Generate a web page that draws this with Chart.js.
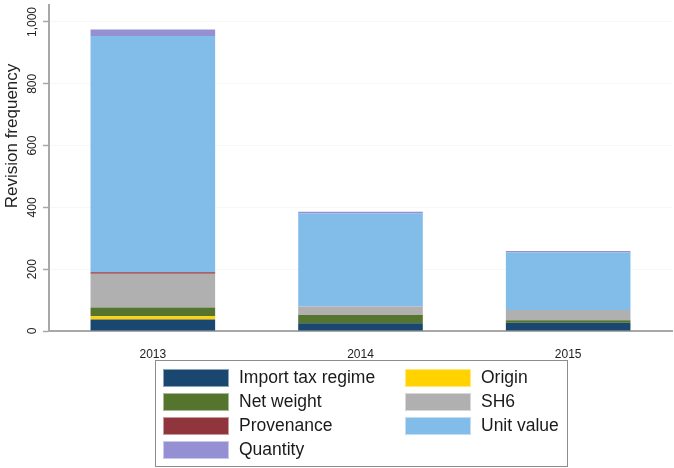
<!DOCTYPE html>
<html>
<head>
<meta charset="utf-8">
<script src="https://cdn.jsdelivr.net/npm/chart.js@4"></script>
<style>
  html, body { margin: 0; padding: 0; background: #fff; }
  #wrap { position: relative; width: 674px; height: 468px; }
</style>
</head>
<body>
<div id="wrap"><canvas id="myChart"></canvas></div>
<script>
// data
const years = ['2013', '2014', '2015'];
const importTax = [37, 25, 27];
const origin = [11, 0, 0];
const netWeight = [28, 27, 8];
const sh6 = [109, 27, 33];
const provenance = [5, 0, 0];
const unitValue = [765, 301, 186];
const quantity = [21, 6, 5];
const yTicks = [0, 200, 400, 600, 800, 1000];

const FONT = '"Liberation Sans", Arial, sans-serif';
const AXIS = '#a8a8a8';

// y tick labels are rotated, Stata style
const rotatedTicks = {
    id: 'rotatedTicks',
    afterDraw(chart) {
        const ctx = chart.ctx;
        const y = chart.scales.y;
        ctx.save();
        ctx.fillStyle = '#222';
        ctx.font = '12px ' + FONT;
        ctx.textAlign = 'center';
        ctx.textBaseline = 'middle';
        y.ticks.forEach(t => {
            ctx.save();
            ctx.translate(33, y.getPixelForValue(t.value));
            ctx.rotate(-Math.PI / 2);
            ctx.fillText(t.value.toLocaleString('en-US'), 0, 0);
            ctx.restore();
        });
        // axis title
        ctx.font = '17px ' + FONT;
        ctx.translate(12, 136);
        ctx.rotate(-Math.PI / 2);
        ctx.fillText('Revision frequency', 0, 0);
        ctx.restore();
    }
};

// boxed legend, two columns, row-major
const boxLegend = {
    id: 'boxLegend',
    afterDraw(chart) {
        const ctx = chart.ctx;
        ctx.save();
        ctx.strokeStyle = '#8c8c8c';
        ctx.lineWidth = 1;
        ctx.strokeRect(155.5, 360.5, 412, 106);
        ctx.font = '17.5px ' + FONT;
        ctx.textBaseline = 'middle';
        chart.data.datasets.forEach((ds, i) => {
            const col = i % 2;
            const row = Math.floor(i / 2);
            const x = col === 0 ? 163 : 405;
            const top = 369 + row * 24;
            ctx.fillStyle = ds.backgroundColor;
            ctx.fillRect(x, top, 66, 18);
            ctx.strokeStyle = 'rgba(255,255,255,0.5)';
            ctx.strokeRect(x + 0.5, top + 0.5, 65, 17);
            ctx.fillStyle = '#1a1a1a';
            ctx.fillText(ds.label, x + 76, top + 9.5);
        });
        ctx.restore();
    }
};

const ctx1 = document.getElementById('myChart').getContext('2d');

const myChart = new Chart(ctx1, {
    type: 'bar',
    data: {
        labels: years,
        datasets: [
            { label: 'Import tax regime', data: importTax, backgroundColor: '#1a476f' },
            { label: 'Origin', data: origin, backgroundColor: '#ffd200' },
            { label: 'Net weight', data: netWeight, backgroundColor: '#55752f' },
            { label: 'SH6', data: sh6, backgroundColor: '#b0b0b0' },
            { label: 'Provenance', data: provenance, backgroundColor: '#90353b' },
            { label: 'Unit value', data: unitValue, backgroundColor: '#82bce8' },
            { label: 'Quantity', data: quantity, backgroundColor: '#958fd4' }
        ]
    },
    options: {
        responsive: true,
        maintainAspectRatio: false,
        animation: false,
        layout: { padding: { top: 5, right: 2, left: 0, bottom: 0 } },
        datasets: { bar: { categoryPercentage: 1, barPercentage: 0.6, borderWidth: 0 } },
        plugins: { legend: { display: false }, tooltip: { enabled: false } },
        scales: {
            x: {
                stacked: true,
                grid: { display: false },
                border: { display: true, color: AXIS, width: 2 },
                ticks: { color: '#222', padding: 8, font: { family: FONT, size: 12 } },
                afterFit(scale) { scale.height = 137; }
            },
            y: {
                stacked: true,
                min: 0,
                max: 1055,
                afterBuildTicks(scale) { scale.ticks = yTicks.map(v => ({ value: v })); },
                grid: { color: '#f7f7f7', tickColor: AXIS, tickLength: 6, tickWidth: 1.5 },
                border: { display: true, color: AXIS, width: 2 },
                ticks: { display: false },
                afterFit(scale) { scale.width = 49; }
            }
        }
    },
    plugins: [rotatedTicks, boxLegend]
});
</script>
</body>
</html>
